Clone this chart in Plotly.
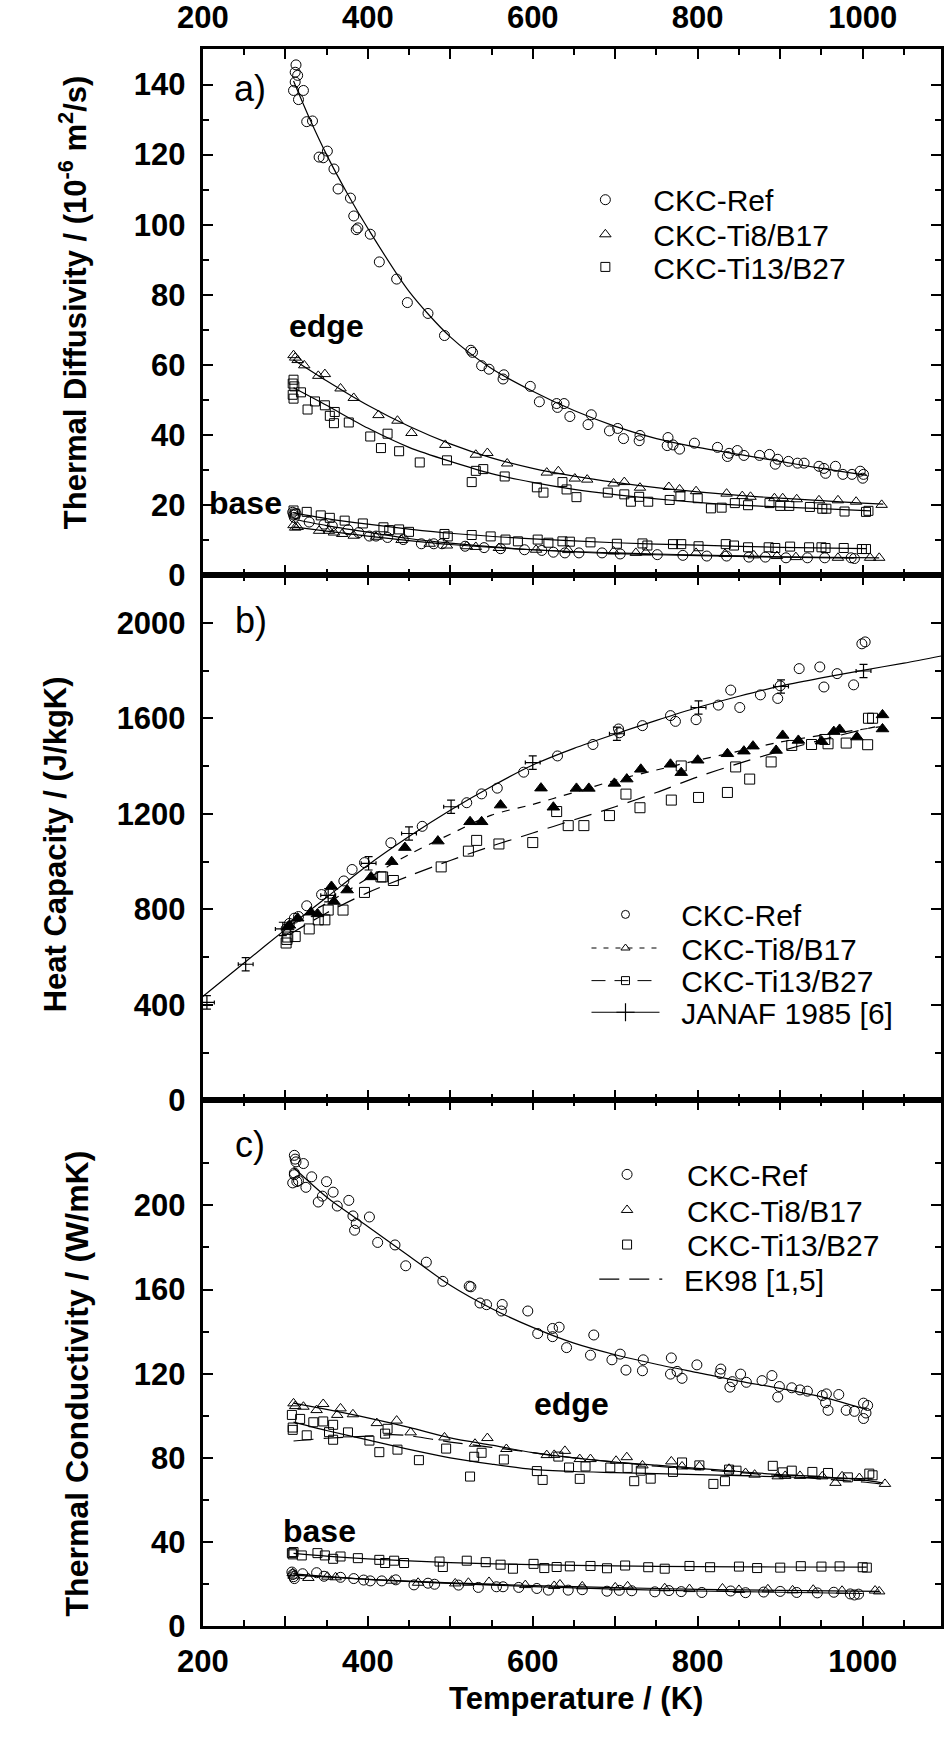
import plotly.graph_objects as go

FONT = "Liberation Sans, Arial, sans-serif"

# ---------------- panel a: thermal diffusivity (T [K], 1e-6 m2/s) ----------------
a_ref_edge = [(310,138.3),(312,140.7),(312,143.5),(313,145.6),(315,142.6),(316,135.7),(322,138.3),(326,129.4),
              (333,129.6),(341,119.3),(346,119.1),(351,121.0),(359,115.9),(364,110.2),(379,107.6),(383,102.5),
              (386,98.6),(388,99.1),(403,97.3),(414,89.4),(435,84.5),(448,77.8),(473,74.7),(493,68.4),(525,64.2),
              (527,63.6),(538,59.8),(547,58.8),(564,56.0),(565,57.2),(597,53.9),(608,49.5),(629,49.0),(630,47.9),
              (638,49.0),(645,45.3),(667,43.0),(671,45.8),(693,41.2),(703,41.9),(710,39.0),(729,38.4),(730,39.9),
              (763,37.0),(764,39.3),(770,37.2),(778,36.0),(796,37.7),(824,36.5),(836,33.9),(838,34.8),(848,35.6),
              (856,34.2),(875,34.2),(887,34.5),(894,31.7),(897,33.1),(910,32.5),(921,32.0),(929,32.0),(947,31.1),
              (953,30.5),(955,29.1),(967,31.1),(976,28.8),(987,28.8),(997,29.7),(1000,27.7),(1001,28.8)]
a_ti8_edge = [(310,62.8),(312,62.1),(315,61.4),(323,59.9),(340,56.9),(348,57.4),(367,53.3),(383,50.6),(413,45.7),
              (436,44.1),(453,40.6),(494,37.2),(531,34.4),(545,34.9),(569,31.9),(617,29.3),(631,29.7),(651,27.6),
              (666,27.3),(698,26.2),(711,26.6),(730,25.0),(765,25.2),(778,24.5),(798,24.0),(835,23.3),(854,22.6),
              (864,22.4),(893,22.0),(903,22.0),(920,21.7),(947,21.4),(970,21.4),(992,21.0),(1023,20.1)]
a_ti13_edge = [(309,54.7),(309,51.5),(310,55.8),(310,50.4),(311,53.9),(319,52.2),(327,47.3),(336,49.6),(348,48.5),
               (354,45.5),(360,46.6),(359,43.4),(377,43.6),(403,39.6),(416,36.3),(424,40.4),(438,35.4),(463,32.2),
               (496,32.8),(526,26.6),(531,29.8),(540,30.3),(566,28.2),(605,25.1),(613,23.6),(636,26.6),(641,24.5),
               (653,22.3),(691,23.6),(711,23.1),(719,21.0),(729,22.4),(740,21.0),(766,21.5),(779,22.6),(800,22.0),
               (816,19.1),(829,19.3),(845,20.6),(861,20.0),(887,20.6),(900,19.8),(911,19.8),(936,19.5),(951,19.0),
               (956,19.0),(978,18.2),(1004,18.1),(1007,18.4)]
a_ti13_base = [(310,18.5),(312,17.6),(326,18.1),(343,17.1),(354,16.4),(372,15.6),(394,14.8),(419,13.7),(426,12.9),
               (438,13.1),(450,12.4),(493,11.8),(497,11.1),(526,11.5),(549,11.1),(567,10.2),(582,9.7),(606,10.2),
               (619,9.3),(636,9.7),(645,9.6),(670,9.4),(702,9.0),(733,9.1),(739,8.5),(770,8.9),(780,8.9),(801,8.3),
               (834,8.9),(844,8.5),(861,8.0),(886,8.0),(894,7.8),(912,8.2),(935,8.0),(950,8.0),(955,7.8),(977,7.8),
               (999,7.5),(1004,7.5)]
a_ref_base = [(309,18.0),(310,17.2),(311,16.5),(313,17.6),(329,15.2),(347,14.6),(357,14.1),(376,13.0),(389,12.2),
              (402,11.2),(410,11.2),(424,10.8),(443,10.2),(465,9.0),(480,9.0),(490,9.0),(518,8.3),(541,7.9),
              (561,7.6),(590,7.3),(611,7.1),(625,6.6),(639,6.4),(656,6.4),(684,6.4),(706,6.1),(751,5.9),(782,5.7),
              (811,5.5),(835,5.5),(862,5.2),(882,5.2),(907,5.0),(933,5.0),(954,5.0),(986,5.0),(990,4.8)]
a_ti8_base = [(310,14.3),(312,13.6),(315,13.8),(341,12.7),(353,12.7),(359,12.2),(369,11.8),(383,11.3),(410,11.0),
              (441,10.1),(475,9.0),(496,8.5),(520,8.3),(531,8.1),(559,7.8),(604,7.3),(643,7.2),(698,6.8),(725,6.4),
              (737,6.5),(798,6.4),(833,6.1),(868,5.7),(896,5.5),(919,5.2),(970,5.0),(1009,5.0),(1020,5.0)]

fit_a_ref_T = [310, 330, 350, 375, 400, 450, 500, 550, 600, 650, 700, 750, 800, 850, 900, 950, 1005]
fit_a_ref_V = [141, 130, 120, 109, 99, 81, 68, 59, 52.5, 47, 42.5, 39, 36.5, 34.5, 32.5, 30.5, 28.5]
fit_a_ti8_T = [310, 350, 400, 450, 500, 550, 600, 650, 700, 750, 800, 850, 900, 950, 1000, 1025]
fit_a_ti8_V = [61.5, 55.5, 48.5, 42.5, 37.5, 33.5, 30.5, 28.3, 26.5, 25, 23.8, 22.8, 22, 21.3, 20.6, 20.3]
fit_a_ti13_T = [310, 350, 400, 450, 500, 550, 600, 650, 700, 750, 800, 850, 900, 950, 1010]
fit_a_ti13_V = [53.5, 48.5, 42, 36.5, 32.5, 29, 26.5, 24.5, 23, 21.8, 20.8, 20, 19.5, 19, 18.4]
fit_a_ti13b_T = [310, 350, 400, 450, 500, 600, 700, 800, 900, 1005]
fit_a_ti13b_V = [17.8, 16.2, 14.6, 13.2, 12, 10.4, 9.3, 8.6, 8.0, 7.6]
fit_a_refb_T = [310, 350, 400, 450, 500, 600, 700, 800, 900, 990]
fit_a_refb_V = [16, 14.2, 12.3, 10.5, 9.2, 7.3, 6.2, 5.6, 5.2, 4.9]
fit_a_ti8b_T = [310, 350, 400, 450, 500, 600, 700, 800, 900, 1020]
fit_a_ti8b_V = [13.8, 12.6, 11.2, 9.9, 8.8, 7.3, 6.4, 5.8, 5.3, 5.0]

# ---------------- panel b: heat capacity (J/kgK) ----------------
b_ref = [(301,718),(305,741),(311,763),(316,770),(326,815),(344,862),(354,867),(371,919),(381,967),(396,996),
         (428,1079),(466,1148),(520,1247),(538,1284),(557,1308),(589,1375),(630,1443),(673,1491),(704,1556),
         (705,1540),(733,1570),(767,1612),(773,1588),(798,1595),(825,1656),(840,1719),(851,1646),(876,1699),
         (897,1684),(900,1737),(923,1809),(948,1816),(953,1732),(969,1788),(989,1741),(999,1913),(1003,1921)]
b_ti8 = [(303,726),(305,733),(315,763),(331,788),(339,781),(356,896),(359,833),(375,881),(404,936),(429,1000),
         (445,1059),(485,1086),(524,1167),(538,1167),(561,1237),(610,1308),(625,1228),(653,1307),(668,1307),
         (699,1328),(714,1346),(731,1387),(767,1408),(780,1373),(800,1425),(836,1452),(856,1463),(867,1484),
         (895,1466),(903,1529),(922,1508),(950,1505),(965,1545),(972,1554),(993,1522),(1024,1556),(1024,1615)]
b_ti13 = [(301,659),(302,674),(303,684),(312,686),(329,718),(340,756),(348,756),(352,797),(370,797),(396,871),
          (416,936),(418,936),(431,921),(489,978),(522,1044),(532,1089),(559,1074),(600,1080),(629,1210),
          (643,1151),(662,1151),(693,1193),(713,1283),(730,1226),(768,1258),(780,1401),(801,1269),(836,1290),
          (846,1397),(863,1346),(889,1418),(914,1487),(938,1491),(954,1512),(958,1494),(980,1497),(1006,1490),
          (1007,1601),(1012,1601)]
janaf_T = [205, 252, 297, 352, 401, 450, 501, 600, 702, 801, 901, 1001]
janaf_V = [410, 570, 718, 859, 993, 1118, 1230, 1415, 1536, 1646, 1734, 1799]
janaf_errV = [28, 28, 28, 28, 28, 28, 28, 28, 28, 28, 28, 28]
janaf_errT = [9, 9, 9, 9, 9, 9, 9, 9, 9, 9, 9, 9]

fit_janaf_T = [200, 250, 300, 350, 400, 450, 500, 550, 600, 650, 700, 750, 800, 850, 900, 950, 1000, 1050, 1095]
fit_janaf_V = [435, 575, 715, 850, 985, 1105, 1215, 1315, 1405, 1475, 1535, 1592, 1646, 1693, 1736, 1770, 1802, 1832, 1862]
fit_b_ti8_T = [305, 350, 400, 450, 500, 550, 600, 650, 700, 750, 800, 850, 900, 950, 1000, 1025]
fit_b_ti8_V = [745, 825, 930, 1030, 1115, 1195, 1240, 1290, 1341, 1384, 1425, 1463, 1501, 1530, 1555, 1567]
fit_b_ti13_T = [305, 350, 400, 450, 500, 550, 600, 650, 700, 750, 800, 850, 900, 950, 1000, 1015]
fit_b_ti13_V = [695, 785, 870, 940, 1005, 1065, 1120, 1175, 1230, 1290, 1355, 1412, 1463, 1510, 1553, 1565]

# ---------------- panel c: thermal conductivity (W/mK) ----------------
c_ref_edge = [(309,210.7),(311,223.8),(311,215.4),(311,214.6),(312,222.0),(313,220.7),(314,211.3),(316,211.8),
              (322,219.9),(325,208.6),(332,213.6),(340,201.6),(345,204.4),(350,211.3),(358,206.3),(363,199.7),
              (377,202.4),(382,195.0),(384,188.2),(386,191.4),(402,194.5),(412,182.4),(433,181.2),(446,171.3),
              (471,173.0),(491,163.9),(523,161.6),(525,161.3),(536,153.6),(544,152.8),(562,149.8),(563,152.9),
              (594,149.8),(606,139.1),(624,141.5),(624,137.6),(632,142.1),(641,132.4),(670,128.8),(674,138.4),
              (696,126.6),(706,129.3),(713,121.7),(733,121.4),(734,126.6),(767,119.8),(768,127.5),(775,121.1),
              (781,117.8),(799,124.2),(827,120.1),(828,122.2),(839,113.6),(842,116.2),(852,119.8),(859,115.9),
              (878,116.7),(890,119.1),(897,108.9),(899,113.9),(914,113.3),(924,112.3),(933,111.7),(951,109.6),
              (955,106.2),(956,110.4),(958,102.6),(971,110.1),(980,102.6),(990,102.1),(1001,106.0),(1001,98.7),
              (1004,101.3),(1006,104.9)]
c_ti8_edge = [(310,105.9),(312,104.6),(322,104.3),(338,102.7),(346,105.6),(363,100.4),(367,103.5),(382,100.7),
              (411,96.5),(435,97.7),(452,92.1),(493,89.7),(530,86.7),(545,89.4),(568,84.2),(617,81.3),(626,81.4),
              (639,83.3),(657,79.4),(670,79.4),(701,78.6),(714,80.3),(733,76.4),(768,78.3),(781,75.9),(802,75.9),
              (838,74.8),(858,72.8),(869,72.0),(897,71.2),(906,71.4),(924,71.4),(951,71.2),(967,68.1),(975,71.2),
              (996,70.4),(1027,67.6)]
c_ti13_edge = [(308,100.4),(309,94.4),(309,93.3),(318,98.5),(326,90.7),(334,96.9),(346,97.3),(353,92.2),(358,95.7),
               (358,88.6),(376,92.1),(402,88.2),(414,82.7),(421,91.5),(424,93.8),(436,83.9),(462,78.9),(495,84.4),
               (524,71.1),(529,80.5),(538,82.4),(565,79.2),(605,73.7),(612,69.5),(631,80.6),(644,75.4),(657,70.0),
               (664,75.9),(694,75.4),(715,75.2),(723,68.9),(731,73.9),(743,70.1),(770,73.3),(781,77.8),(802,76.4),
               (819,67.6),(833,68.9),(838,74.4),(847,73.9),(891,76.2),(903,73.1),(914,73.9),(939,73.3),(958,72.8),
               (982,70.7),(1008,72.5),(1012,71.7)]
c_ti13_base = [(308,34.7),(309,34.1),(310,35.2),(320,33.6),(339,34.7),(348,33.6),(358,32.0),(367,33.1),(388,32.3),
               (414,31.5),(421,30.0),(432,31.1),(444,30.0),(487,30.7),(491,28.1),(520,31.1),(543,30.4),(561,29.2),
               (576,27.3),(601,29.6),(614,27.6),(629,28.1),(645,28.4),(670,28.6),(690,27.5),(712,28.8),(740,28.0),
               (760,27.3),(790,28.6),(815,28.0),(850,28.3),(872,27.6),(900,27.8),(925,28.5),(950,28.3),(972,28.4),
               (1000,28.0),(1005,27.8)]
c_ref_base = [(308,25.7),(309,24.5),(310,23.5),(311,22.6),(321,24.9),(338,25.4),(347,23.7),(367,23.2),(383,22.6),
              (395,21.9),(403,21.5),(417,21.5),(434,22.0),(456,19.6),(473,20.4),(481,19.9),(510,19.5),(534,18.4),
              (556,18.7),(564,18.7),(583,18.4),(605,17.9),(619,17.1),(643,17.1),(660,17.3),(690,16.6),(705,17.0),
              (720,16.8),(748,16.3),(765,16.9),(780,16.4),(805,16.0),(840,16.7),(858,15.9),(880,16.2),(900,16.5),
              (920,16.0),(945,15.8),(965,16.1),(985,15.3),(990,14.8),(995,15.2)]
c_ti8_base = [(309,25.2),(310,24.0),(328,22.9),(351,23.5),(361,23.2),(429,21.6),(461,20.6),(506,20.3),(522,20.6),
              (547,21.0),(591,19.5),(626,19.1),(633,19.8),(660,18.9),(700,18.4),(715,18.9),(760,18.0),(790,17.6),
              (830,17.9),(850,17.2),(885,17.5),(915,17.0),(940,17.3),(975,16.8),(1015,16.9),(1020,16.5)]

fit_c_ref_T = [310, 350, 400, 450, 500, 550, 600, 650, 700, 750, 800, 850, 900, 950, 1005]
fit_c_ref_V = [218, 204, 190, 176, 162, 151, 142, 134.5, 129, 124.5, 120.5, 116.5, 113, 109, 103]
fit_c_ti8_T = [310, 350, 400, 450, 500, 550, 600, 650, 700, 750, 800, 850, 900, 950, 1000, 1025]
fit_c_ti8_V = [106, 103, 99, 94.5, 89.5, 86, 82.5, 80, 78, 76.5, 75, 73.5, 72, 71, 69.5, 68]
fit_c_ti13_T = [310, 350, 400, 450, 500, 550, 600, 650, 700, 750, 800, 850, 900, 950, 1012]
fit_c_ti13_V = [97, 93, 88.5, 84, 80, 77, 74.5, 73.5, 73, 72.5, 72, 71.5, 71, 70.5, 70]
fit_c_ek98_T = [310, 350, 400, 430, 450, 500, 550, 600, 650, 700, 750, 800, 850, 900, 950, 1000, 1025]
fit_c_ek98_V = [88, 89.3, 90.3, 91, 90.5, 87.5, 85, 82.5, 80, 78, 76, 74.5, 73, 71.5, 70, 68.5, 67.5]
fit_c_ti13b_T = [310, 350, 400, 450, 500, 600, 700, 800, 900, 1005]
fit_c_ti13b_V = [34.6, 33.3, 32, 31, 30.2, 29.2, 28.6, 28.3, 28.1, 28.0]
fit_c_refb_T = [310, 400, 500, 600, 700, 800, 900, 1000]
fit_c_refb_V = [24.8, 22.2, 20.3, 18.8, 17.6, 16.7, 16.1, 15.5]
fit_c_ti8b_T = [310, 400, 500, 600, 700, 800, 900, 1020]
fit_c_ti8b_V = [24.2, 22.2, 20.6, 19.3, 18.3, 17.5, 17.0, 16.5]

# axis tick labelling
x_tickvals = [200, 300, 400, 500, 600, 700, 800, 900, 1000]
x_ticktext = ["200", " ", "400", " ", "600", " ", "800", " ", "1000"]

NB = "\u00a0\u00a0"   # small gap between legend key and label in panel b / EK98

fig = go.Figure()

def split(pairs):
    return [p[0] for p in pairs], [p[1] for p in pairs]

def add_line(T, V, ax, dash="solid", width=1.2, name=None, legend=None):
    fig.add_trace(go.Scatter(x=T, y=V, mode="lines", xaxis="x" + ax, yaxis="y" + ax,
                             line=dict(color="black", width=width, dash=dash, shape="spline", smoothing=0.8),
                             name=name, legend=legend, showlegend=name is not None, hoverinfo="skip"))

def add_pts(pairs, symbol, ax, size=10, name=None, legend=None):
    T, V = split(pairs)
    fig.add_trace(go.Scatter(x=T, y=V, mode="markers", xaxis="x" + ax, yaxis="y" + ax,
                             marker=dict(symbol=symbol, size=size, color="black",
                                         line=dict(color="black", width=1)),
                             name=name, legend=legend, showlegend=name is not None))

# ---- panel a
add_line(fit_a_ref_T, fit_a_ref_V, "")
add_line(fit_a_ti8_T, fit_a_ti8_V, "")
add_line(fit_a_ti13_T, fit_a_ti13_V, "")
add_line(fit_a_ti13b_T, fit_a_ti13b_V, "")
add_line(fit_a_refb_T, fit_a_refb_V, "")
add_line(fit_a_ti8b_T, fit_a_ti8b_V, "")
add_pts(a_ref_edge, "circle-open", "", name="CKC-Ref", legend="legend")
add_pts(a_ti8_edge, "triangle-up-open", "", name="CKC-Ti8/B17", legend="legend2")
add_pts(a_ti13_edge, "square-open", "", size=9, name="CKC-Ti13/B27", legend="legend3")
add_pts(a_ti13_base, "square-open", "", size=9)
add_pts(a_ref_base, "circle-open", "")
add_pts(a_ti8_base, "triangle-up-open", "")

# ---- panel b
add_line(fit_janaf_T, fit_janaf_V, "2")
add_line(fit_b_ti8_T, fit_b_ti8_V, "2", dash="8px,8px")
add_line(fit_b_ti13_T, fit_b_ti13_V, "2", dash="18px,10px")
add_pts(b_ref, "circle-open", "2")
add_pts(b_ti8, "triangle-up", "2", size=11)
add_pts(b_ti13, "square-open", "2", size=10)
fig.add_trace(go.Scatter(x=janaf_T, y=janaf_V, mode="markers", xaxis="x2", yaxis="y2",
                         marker=dict(symbol="line-ew-open", size=1, color="black", line=dict(width=1, color="black")),
                         error_y=dict(type="data", array=janaf_errV, visible=True, color="black", thickness=1.2, width=4),
                         error_x=dict(type="data", array=janaf_errT, visible=True, color="black", thickness=1.2, width=2),
                         showlegend=False))
# legend keys for panel b (key style differs from plotted symbols)
fig.add_trace(go.Scatter(x=[None], y=[None], mode="markers", xaxis="x2", yaxis="y2", name=NB + "CKC-Ref",
                         legend="legend4", marker=dict(symbol="circle-open", size=8, color="black")))
fig.add_trace(go.Scatter(x=[None], y=[None], mode="lines+markers", xaxis="x2", yaxis="y2", name=NB + "CKC-Ti8/B17",
                         legend="legend5", line=dict(color="black", width=1, dash="5px,7px"),
                         marker=dict(symbol="triangle-up-open", size=8, color="black")))
fig.add_trace(go.Scatter(x=[None], y=[None], mode="lines+markers", xaxis="x2", yaxis="y2", name=NB + "CKC-Ti13/B27",
                         legend="legend6", line=dict(color="black", width=1, dash="14px,9px"),
                         marker=dict(symbol="square-open", size=8, color="black")))
fig.add_trace(go.Scatter(x=[None], y=[None], mode="lines+markers", xaxis="x2", yaxis="y2", name=NB + "JANAF 1985 [6]",
                         legend="legend7", line=dict(color="black", width=1),
                         marker=dict(symbol="cross-thin-open", size=13, color="black", line=dict(width=1.2))))

# ---- panel c
add_line(fit_c_ref_T, fit_c_ref_V, "3")
add_line(fit_c_ti8_T, fit_c_ti8_V, "3")
add_line(fit_c_ti13_T, fit_c_ti13_V, "3")
add_line(fit_c_ti13b_T, fit_c_ti13b_V, "3")
add_line(fit_c_refb_T, fit_c_refb_V, "3")
add_line(fit_c_ti8b_T, fit_c_ti8b_V, "3")
add_line(fit_c_ek98_T, fit_c_ek98_V, "3", dash="20px,10px", name=NB + "EK98 [1,5]", legend="legend11")
add_pts(c_ref_edge, "circle-open", "3", name="CKC-Ref", legend="legend8")
add_pts(c_ti8_edge, "triangle-up-open", "3", name="CKC-Ti8/B17", legend="legend9")
add_pts(c_ti13_edge, "square-open", "3", size=9, name="CKC-Ti13/B27", legend="legend10")
add_pts(c_ti13_base, "square-open", "3", size=9)
add_pts(c_ref_base, "circle-open", "3")
add_pts(c_ti8_base, "triangle-up-open", "3")

W, H = 944, 1740
xdom = [182 / W, 942 / W]
dom_a = [1 - 580 / H, 1 - 48 / H]
dom_b = [1 - 1111 / H, 1 - 580 / H]
dom_c = [1 - 1643 / H, 1 - 1111 / H]

tickfont = dict(family=FONT, size=31, color="black", weight="bold")

def xax(show_labels, side, anchor):
    return dict(domain=xdom, range=[200, 1095], anchor=anchor, side=side,
                tickmode="array", tickvals=x_tickvals, ticktext=x_ticktext,
                showticklabels=show_labels, ticks="inside", ticklen=10, tickwidth=1.5, tickcolor="black",
                tickfont=tickfont, ticklabelstandoff=6,
                showline=True, linewidth=3, linecolor="black", mirror="ticks",
                showgrid=False, zeroline=False,
                minor=dict(tickmode="linear", tick0=0, dtick=50, ticks="inside", ticklen=6,
                           tickwidth=1.5, tickcolor="black", showgrid=False))

def yax(dom, rng, tv, mv, anchor):
    return dict(domain=dom, range=rng, anchor=anchor,
                tickmode="array", tickvals=tv, ticks="inside", ticklen=10, tickwidth=1.5, tickcolor="black",
                tickfont=tickfont, ticklabelstandoff=8,
                showline=True, linewidth=3, linecolor="black", mirror="ticks",
                showgrid=False, zeroline=False,
                minor=dict(tickmode="array", tickvals=mv, ticks="inside", ticklen=6,
                           tickwidth=1.5, tickcolor="black", showgrid=False))

def leg(x_left, y_mid, iw):
    return dict(bgcolor="rgba(0,0,0,0)", borderwidth=0, xanchor="left", yanchor="middle",
                x=x_left / W, y=1 - y_mid / H, itemwidth=iw,
                font=dict(family=FONT, size=30, color="black"), tracegroupgap=0,
                itemsizing="trace", itemclick=False, itemdoubleclick=False)

fig.update_layout(
    width=W, height=H, margin=dict(l=0, r=0, t=0, b=0),
    paper_bgcolor="white", plot_bgcolor="white",
    xaxis=xax(True, "top", "y"),
    xaxis2=xax(False, "bottom", "y2"),
    xaxis3=xax(True, "bottom", "y3"),
    yaxis=yax(dom_a, [0, 150], [0, 20, 40, 60, 80, 100, 120, 140], [10, 30, 50, 70, 90, 110, 130, 150], "x"),
    yaxis2=yax(dom_b, [0, 2200], [0, 400, 800, 1200, 1600, 2000], [200, 600, 1000, 1400, 1800, 2200], "x2"),
    yaxis3=yax(dom_c, [0, 250], [0, 40, 80, 120, 160, 200], [20, 60, 100, 140, 180, 220], "x3"),
    legend=leg(547, 200, 86), legend2=leg(547, 235, 86), legend3=leg(547, 268, 86),
    legend4=leg(577, 923, 68), legend5=leg(577, 957, 68), legend6=leg(577, 990, 68), legend7=leg(577, 1022, 68),
    legend8=leg(557, 1186, 110), legend9=leg(557, 1222, 110), legend10=leg(557, 1257, 110),
    legend11=leg(585, 1292, 63),
    showlegend=True,
)

def ann(text, x, y, xref="paper", yref="paper", size=30, bold=False, angle=0, xanchor="center"):
    fig.add_annotation(text=("<b>%s</b>" % text) if bold else text, x=x, y=y, xref=xref, yref=yref,
                       showarrow=False, textangle=angle, xanchor=xanchor, yanchor="middle",
                       font=dict(family=FONT, size=size, color="black"))

ann("Thermal Diffusivity / (10<sup>-6</sup> m<sup>2</sup>/s)", 48 / W, 1 - 304 / H, size=31, bold=True, angle=-90)
ann("Heat Capacity / (J/kgK)", 30 / W, 1 - 852 / H, size=31, bold=True, angle=-90)
ann("Thermal Conductivity / (W/mK)", 52 / W, 1 - 1398 / H, size=32, bold=True, angle=-90)
ann("Temperature / (K)", 566 / W, 1 - 1716 / H, size=31, bold=True)

ann("a)", 257, 139, "x", "y", size=36)
ann("b)", 259, 2010, "x2", "y2", size=36)
ann("c)", 257, 229, "x3", "y3", size=36)
ann("edge", 350, 71, "x", "y", size=32, bold=True)
ann("base", 252, 20.6, "x", "y", size=32, bold=True)
ann("edge", 647, 105.6, "x3", "y3", size=32, bold=True)
ann("base", 342, 45, "x3", "y3", size=32, bold=True)

fig.write_html("out.html")
